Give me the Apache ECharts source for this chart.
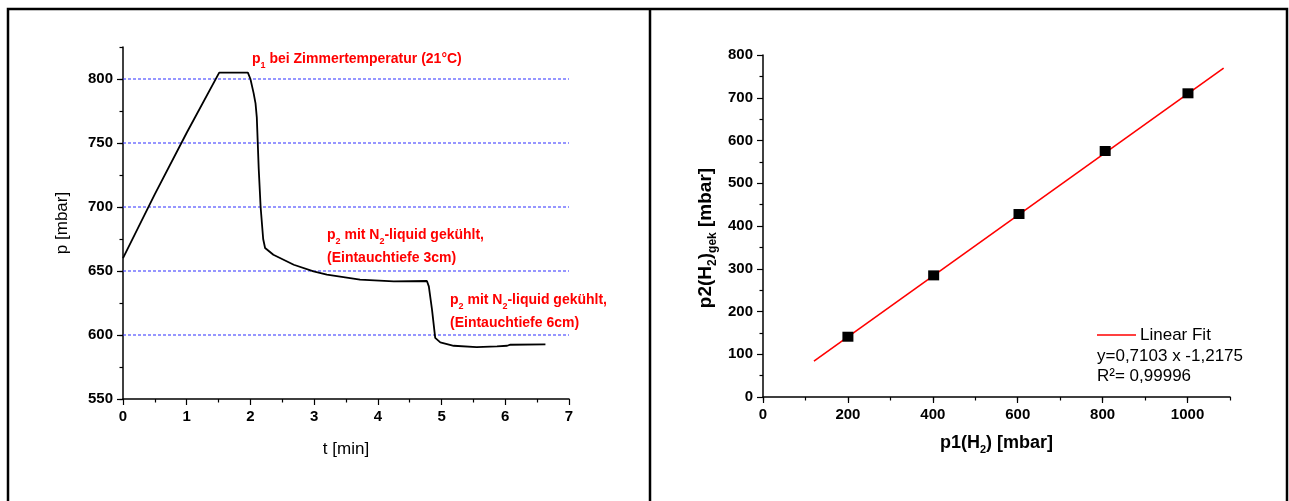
<!DOCTYPE html>
<html>
<head>
<meta charset="utf-8">
<script src="https://cdn.jsdelivr.net/npm/echarts@6/dist/echarts.min.js"></script>
<style>
  html, body { margin: 0; padding: 0; background: #fff; }
  #chart { width: 1289px; height: 501px; }
</style>
</head>
<body>
<div id="chart"></div>
<script>
// Pressure trace: cooling of the H2 sample (time in min, pressure in mbar)
const timeMin = [0, 0.5, 1.0, 1.51, 1.96, 2.0, 2.05, 2.08, 2.10, 2.13, 2.16, 2.20, 2.23,
  2.36, 2.68, 2.99, 3.2, 3.72, 4.25, 4.77, 4.80, 4.85, 4.90, 4.98, 5.19, 5.55, 5.87, 6.03, 6.08, 6.63];
const pressure = [660, 710, 758, 805, 805, 800, 789, 781, 770, 730, 700, 675, 668,
  662.7, 654.9, 649.7, 647.1, 643.2, 641.9, 642.2, 638, 619.8, 597.7, 594.2, 591.6, 590.6, 591.1, 591.6, 592.4, 592.7];
const refLevels = [600, 650, 700, 750, 800];
const timeRange = [0, 7];

// Calibration points p1 -> p2 (mbar) and the linear fit
const p1Values = [200, 402, 603, 806, 1001];
const p2Values = [141, 284.5, 428, 575.4, 710.4];
const fitSlope = 0.7103;
const fitIntercept = -1.2175;
const fitR2 = 0.99996;
const fitRange = [120, 1085];

const FONT = '"Liberation Sans", Arial, sans-serif';
const deNum = v => String(v).replace('.', ',');

const tracePoints = timeMin.map((t, i) => [t, pressure[i]]);
const calibPoints = p1Values.map((x, i) => [x, p2Values[i]]);
const fitPoints = fitRange.map(x => [x, fitSlope * x + fitIntercept]);

const axisLineStyle = { lineStyle: { color: '#000', width: 1.5 } };
const tickLabel = { color: '#000', fontFamily: FONT, fontWeight: 'bold', fontSize: 15, formatter: v => String(v) };

const annRich = {
  b: { fontFamily: FONT, fontWeight: 'bold', fontSize: 14, fill: '#ff0000', lineHeight: 23 },
  s: { fontFamily: FONT, fontWeight: 'bold', fontSize: 9, fill: '#ff0000', lineHeight: 16, verticalAlign: 'bottom' }
};
const titleRich = {
  m: { fontFamily: FONT, fontWeight: 'bold', fontSize: 18, color: '#000', lineHeight: 24 },
  s: { fontFamily: FONT, fontWeight: 'bold', fontSize: 11, color: '#000', lineHeight: 16, verticalAlign: 'bottom' }
};
const yTitleRich = {
  m: { fontFamily: FONT, fontWeight: 'bold', fontSize: 19, fill: '#000', lineHeight: 25 },
  s: { fontFamily: FONT, fontWeight: 'bold', fontSize: 12, fill: '#000', lineHeight: 16, verticalAlign: 'bottom' }
};
const legendText = { fontFamily: FONT, fontSize: 17, fill: '#000', verticalAlign: 'middle' };

// dotted blue reference levels across the pressure panel
const levelSeries = refLevels.map(v => ({
  type: 'line', xAxisIndex: 0, yAxisIndex: 0, silent: true,
  data: timeRange.map(t => [t, v]), showSymbol: false, symbol: 'none',
  lineStyle: { color: '#2f2fff', width: 1.2, type: [3, 2] }, z: 1
}));

const chart = echarts.init(document.getElementById('chart'), null, { renderer: 'canvas' });

chart.setOption({
  backgroundColor: '#fff',
  animation: false,
  grid: [
    { left: 123, right: 720, top: 47, bottom: 102 },
    { left: 763, right: 59, top: 55, bottom: 104 }
  ],
  xAxis: [
    {
      type: 'value', gridIndex: 0, position: 'bottom', min: timeRange[0], max: timeRange[1], interval: 1,
      name: 't [min]', nameLocation: 'middle', nameGap: 42,
      nameTextStyle: { fontFamily: FONT, fontSize: 17, color: '#000' },
      axisLine: axisLineStyle,
      axisTick: { length: 6, lineStyle: { color: '#000', width: 1.2 } },
      minorTick: { show: true, splitNumber: 2, length: 3.5, lineStyle: { color: '#000', width: 1.2 } },
      axisLabel: Object.assign({ margin: 10 }, tickLabel),
      splitLine: { show: false }
    },
    {
      type: 'value', gridIndex: 1, position: 'bottom', min: 0, max: 1100, interval: 200,
      name: '{m|p1(H}{s|2}{m|) [mbar]}', nameLocation: 'middle', nameGap: 34,
      nameTextStyle: { rich: titleRich },
      axisLine: axisLineStyle,
      axisTick: { length: 6, lineStyle: { color: '#000', width: 1.2 } },
      axisLabel: Object.assign({ margin: 10, showMaxLabel: false }, tickLabel),
      splitLine: { show: false }
    },
    {
      type: 'value', gridIndex: 1, position: 'bottom', min: 0, max: 1100, interval: 100,
      axisLine: { show: false, onZero: false },
      axisTick: { length: 3.5, lineStyle: { color: '#000', width: 1.2 } },
      axisLabel: { show: false },
      splitLine: { show: false }
    }
  ],
  yAxis: [
    {
      type: 'value', gridIndex: 0, position: 'left', min: 550, max: 825, interval: 50,
      name: 'p [mbar]', nameLocation: 'middle', nameGap: 52,
      nameTextStyle: { fontFamily: FONT, fontSize: 17, color: '#000' },
      axisLine: axisLineStyle,
      axisTick: { length: 6, lineStyle: { color: '#000', width: 1.2 } },
      axisLabel: Object.assign({ margin: 10, showMaxLabel: false }, tickLabel),
      splitLine: { show: false }
    },
    {
      type: 'value', gridIndex: 0, position: 'left', min: 550, max: 825, interval: 25,
      axisLine: { show: false, onZero: false },
      axisTick: { length: 3.5, lineStyle: { color: '#000', width: 1.2 } },
      axisLabel: { show: false },
      splitLine: { show: false }
    },
    {
      type: 'value', gridIndex: 1, position: 'left', min: 0, max: 800, interval: 100,
      axisLine: axisLineStyle,
      axisTick: { length: 6, lineStyle: { color: '#000', width: 1.2 } },
      minorTick: { show: true, splitNumber: 2, length: 3.5, lineStyle: { color: '#000', width: 1.2 } },
      axisLabel: Object.assign({ margin: 10 }, tickLabel),
      splitLine: { show: false }
    }
  ],
  series: levelSeries.concat([
    {
      type: 'line', xAxisIndex: 0, yAxisIndex: 0,
      data: tracePoints, showSymbol: false, symbol: 'none',
      lineStyle: { color: '#000', width: 1.8 },
      itemStyle: { color: '#000' },
      z: 3
    },
    {
      type: 'line', xAxisIndex: 1, yAxisIndex: 2,
      data: fitPoints, showSymbol: false, symbol: 'none',
      lineStyle: { color: '#ff0000', width: 1.6 }, z: 2
    },
    {
      type: 'scatter', xAxisIndex: 1, yAxisIndex: 2,
      data: calibPoints, symbol: 'rect', symbolSize: [11, 10],
      itemStyle: { color: '#000', opacity: 1 }, z: 3
    }
  ]),
  graphic: [
    // frame and panel divider
    { type: 'rect', shape: { x: 8, y: 9, width: 1279, height: 520 },
      style: { fill: 'none', stroke: '#000', lineWidth: 2.5 }, silent: true },
    { type: 'line', shape: { x1: 650, y1: 9, x2: 650, y2: 501 },
      style: { stroke: '#000', lineWidth: 2.5 }, silent: true },
    // annotations on the pressure trace
    { type: 'text', left: 252, top: 52,
      style: { text: '{b|p}{s|1}{b| bei Zimmertemperatur (21°C)}', rich: annRich, fill: '#ff0000' } },
    { type: 'text', left: 327, top: 228,
      style: { text: '{b|p}{s|2}{b| mit N}{s|2}{b|-liquid gekühlt,}\n{b|(Eintauchtiefe 3cm)}', rich: annRich, fill: '#ff0000' } },
    { type: 'text', left: 450, top: 293,
      style: { text: '{b|p}{s|2}{b| mit N}{s|2}{b|-liquid gekühlt,}\n{b|(Eintauchtiefe 6cm)}', rich: annRich, fill: '#ff0000' } },
    // y title of the calibration panel
    { type: 'text', x: 706, y: 238, rotation: Math.PI / 2,
      style: { text: '{m|p2(H}{s|2}{m|)}{s|gek}{m| [mbar]}', rich: yTitleRich, align: 'center', verticalAlign: 'middle' } },
    // fit legend
    { type: 'line', shape: { x1: 1097, y1: 335, x2: 1136, y2: 335 },
      style: { stroke: '#ff0000', lineWidth: 1.5 } },
    { type: 'text', x: 1140, y: 335, style: Object.assign({ text: 'Linear Fit' }, legendText) },
    { type: 'text', x: 1097, y: 356,
      style: Object.assign({ text: 'y=' + deNum(fitSlope) + ' x ' + deNum(fitIntercept) }, legendText) },
    { type: 'text', x: 1097, y: 376.5,
      style: Object.assign({ text: 'R²= ' + deNum(fitR2) }, legendText) }
  ]
});
</script>
</body>
</html>
